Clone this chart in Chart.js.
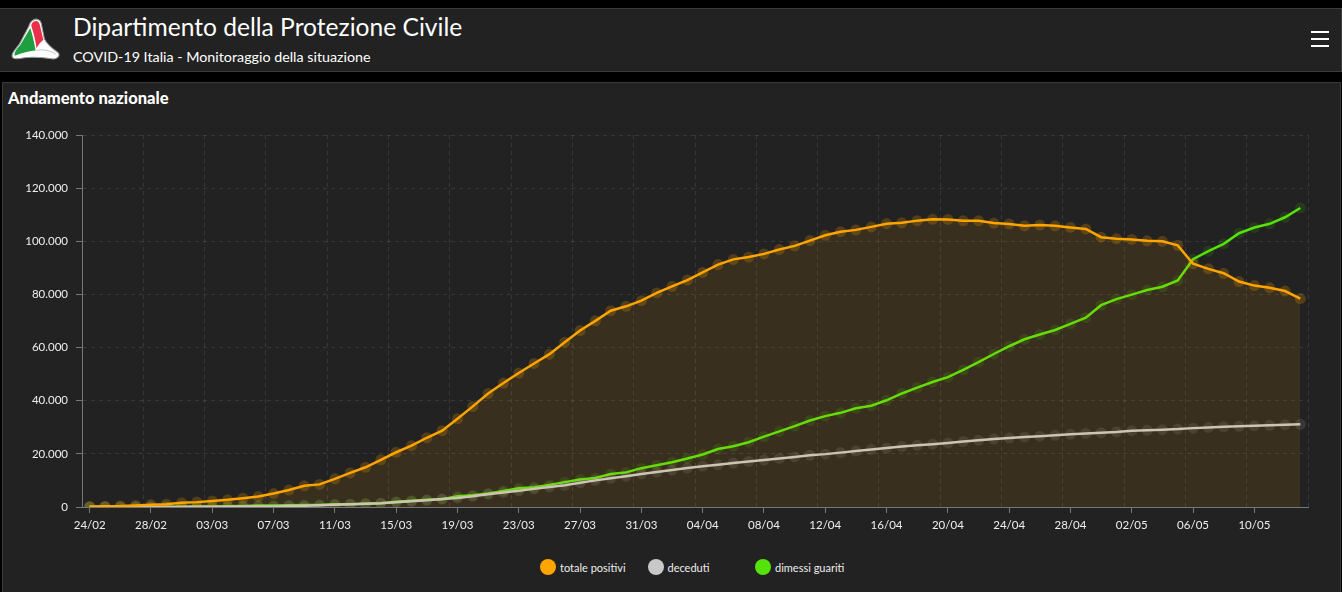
<!DOCTYPE html>
<html>
<head>
<meta charset="utf-8">
<title>Andamento nazionale</title>
<script src="https://cdn.jsdelivr.net/npm/chart.js@4.4.0/dist/chart.umd.min.js"></script>
<style>
  body { margin: 0; background: #000; width: 1342px; height: 592px; overflow: hidden; font-family: Lato, "Open Sans", sans-serif; color: #fff; }
  #header { position: absolute; left: -1px; top: 8px; width: 1341px; height: 62px; background: #222; border: 1px solid #3c3c3c; }
  #logo { position: absolute; left: 10px; top: 9px; }
  #title { position: absolute; left: 73px; top: 3px; font-size: 24.6px; white-space: nowrap; }
  #subtitle { position: absolute; left: 73px; top: 39px; font-size: 14.3px; white-space: nowrap; }
  #menu { position: absolute; right: 12px; top: 22px; width: 18px; }
  #menu span { display: block; height: 2px; background: #fff; margin-bottom: 5px; }
  #panel { position: absolute; left: 2px; top: 82px; width: 1337px; height: 520px; background: #222; border: 1px solid #3a3a3a; }
  #panelTitle { position: absolute; left: 5px; top: 5px; font-size: 16.5px; font-weight: 900; }
  #chartBox { position: absolute; left: 10px; top: 120px; width: 1320px; height: 420px; }
  #legend { position: absolute; left: 540px; top: 559px; display: flex; font-size: 11px; color: #eee; }
  #legend .item { width: 107.5px; display: flex; align-items: center; }
  #legend .dot { width: 16px; height: 16px; border-radius: 50%; margin-right: 4px; }
</style>
</head>
<body>

<div id="header">
  <svg id="logo" width="50" height="44" viewBox="0 0 48 42">
    <path d="M22,2 C25,0 29,1 30,5 L33,20 C36,26 42,30 46,33 C49,36 45,40 40,39 C32,38 22,37 14,38 C8,39 2,40 2,36 C2,33 6,29 9,25 L18,8 C19,5 20,3 22,2 Z" fill="#fff" stroke="#999" stroke-width="1"/>
    <path d="M22.5,3.5 C25,2 27.5,2.5 28.5,6 L32,21 C29,23 27,26 25.5,29 C24.5,21 22.5,14 20.5,7.5 C20.5,5.5 21.5,4.5 22.5,3.5 Z" fill="#e8304a"/>
    <path d="M19.5,9.5 C21.5,16 23.5,24 24.5,31 C18,31.5 10,34 4.5,36 C3.5,33 7,29 10,25.5 Z" fill="#1e9e3e"/>
    <path d="M25.5,31 C31,29.5 38,31 44,34.5" fill="none" stroke="#bbb" stroke-width="0.8"/>
  </svg>
  <div id="title">Dipartimento della Protezione Civile</div>
  <div id="subtitle">COVID-19 Italia - Monitoraggio della situazione</div>
  <div id="menu"><span></span><span></span><span></span></div>
</div>

<div id="panel">
  <div id="panelTitle">Andamento nazionale</div>
</div>

<div id="chartBox"><canvas id="myChart"></canvas></div>
<div id="legend"></div>

<script>
const dates = [
  "24/02", "25/02", "26/02", "27/02", "28/02", "29/02",
  "01/03", "02/03", "03/03", "04/03", "05/03", "06/03", "07/03", "08/03", "09/03", "10/03",
  "11/03", "12/03", "13/03", "14/03", "15/03", "16/03", "17/03", "18/03", "19/03", "20/03",
  "21/03", "22/03", "23/03", "24/03", "25/03", "26/03", "27/03", "28/03", "29/03", "30/03", "31/03",
  "01/04", "02/04", "03/04", "04/04", "05/04", "06/04", "07/04", "08/04", "09/04", "10/04",
  "11/04", "12/04", "13/04", "14/04", "15/04", "16/04", "17/04", "18/04", "19/04", "20/04",
  "21/04", "22/04", "23/04", "24/04", "25/04", "26/04", "27/04", "28/04", "29/04", "30/04",
  "01/05", "02/05", "03/05", "04/05", "05/05", "06/05", "07/05", "08/05", "09/05", "10/05",
  "11/05", "12/05", "13/05"
];

const totalePositivi = [
  221, 311, 385, 588, 821, 1049,
  1577, 1835, 2263, 2706, 3296, 3916, 5061, 6387, 7985, 8514,
  10590, 12839, 14955, 17750, 20603, 23073, 26062, 28710, 33190, 37860,
  42681, 46638, 50418, 54030, 57521, 62013, 66414, 70065, 73880, 75528, 77635,
  80572, 83049, 85388, 88274, 91246, 93187, 94067, 95262, 96877, 98273,
  100269, 102253, 103616, 104291, 105418, 106607, 106962, 107771, 108257, 108237,
  107709, 107699, 106848, 106527, 105847, 106103, 105813, 105205, 104657, 101551,
  100943, 100704, 100179, 99980, 98467, 91528, 89624, 87961, 84842, 83324,
  82488, 81266, 78457
];

const deceduti = [
  7, 10, 12, 17, 21, 29,
  34, 52, 79, 107, 148, 197, 233, 366, 463, 631,
  827, 1016, 1266, 1441, 1809, 2158, 2503, 2978, 3405, 4032,
  4825, 5476, 6077, 6820, 7503, 8165, 9134, 10023, 10779, 11591, 12428,
  13155, 13915, 14681, 15362, 15887, 16523, 17127, 17669, 18279, 18849,
  19468, 19899, 20465, 21067, 21645, 22170, 22745, 23227, 23660, 24114,
  24648, 25085, 25549, 25969, 26384, 26644, 26977, 27359, 27682, 27967,
  28236, 28710, 28884, 29079, 29315, 29684, 29958, 30201, 30395, 30560,
  30739, 30911, 31106
];

const dimessiGuariti = [
  1, 1, 3, 45, 46, 50,
  83, 149, 160, 276, 414, 523, 589, 622, 724, 724,
  1045, 1045, 1258, 1439, 1966, 2335, 2749, 2941, 4025, 4440,
  5129, 6072, 7024, 7432, 8326, 9362, 10361, 10950, 12384, 13030, 14620,
  15729, 16847, 18278, 19758, 21815, 22837, 24392, 26491, 28470, 30455,
  32534, 34211, 35435, 37130, 38092, 40164, 42727, 44927, 47055, 48877,
  51600, 54543, 57576, 60498, 63120, 64928, 66624, 68941, 71252, 75945,
  78249, 79914, 81654, 82879, 85231, 93245, 96276, 99023, 103031, 105186,
  106587, 109039, 112541
];

const yTicks = [0, 20000, 40000, 60000, 80000, 100000, 120000, 140000];

const font = { family: "Lato, 'Open Sans', sans-serif", size: 11.5 };

// every fourth day gets a label; dashed grid lines sit half a day before
const labelIdx = dates.map((d, i) => i).filter(i => i % 4 === 0);
const gridIdx = labelIdx.map(i => i - 0.5).concat(dates.length - 0.5);

function series(values) {
  return values.map((v, i) => ({ x: i, y: v }));
}

function formatNum(v) {
  return String(v).replace(/\B(?=(\d{3})+(?!\d))/g, ".");
}

const ctx = document.getElementById("myChart");

const chart = new Chart(ctx, {
  type: "line",
  data: {
    datasets: [
      {
        label: "totale positivi",
        data: series(totalePositivi),
        borderColor: "#ffa500",
        backgroundColor: "rgba(255,165,0,0.1)",
        fill: "origin",
        borderWidth: 2.5,
        pointRadius: 5.5,
        pointBorderWidth: 0,
        pointBackgroundColor: "rgba(255,165,0,0.22)"
      },
      {
        label: "deceduti",
        data: series(deceduti),
        borderColor: "#c8c8c8",
        backgroundColor: "#c8c8c8",
        fill: false,
        borderWidth: 2.5,
        pointRadius: 5.5,
        pointBorderWidth: 0,
        pointBackgroundColor: "rgba(200,200,200,0.13)"
      },
      {
        label: "dimessi guariti",
        data: series(dimessiGuariti),
        borderColor: "#55e30b",
        backgroundColor: "#55e30b",
        fill: false,
        borderWidth: 2.5,
        pointRadius: 5.5,
        pointBorderWidth: 0,
        pointBackgroundColor: "rgba(85,227,11,0.13)"
      }
    ]
  },
  options: {
    responsive: true,
    maintainAspectRatio: false,
    animation: false,
    layout: { padding: { top: 15, right: 22, left: 0, bottom: 0 } },
    plugins: {
      legend: { display: false },
      tooltip: { enabled: false }
    },
    scales: {
      x: {
        type: "linear",
        position: "bottom",
        min: -0.5,
        max: dates.length - 0.5,
        afterBuildTicks: s => { s.ticks = labelIdx.map(v => ({ value: v })); },
        afterFit: s => { s.height = 33; },
        grid: { drawOnChartArea: false, tickLength: 6, tickColor: "#777" },
        border: { color: "#777" },
        ticks: {
          color: "#eee",
          font: font,
          padding: 5,
          maxRotation: 0,
          autoSkip: false,
          callback: v => dates[v]
        }
      },
      xGrid: {
        type: "linear",
        position: "top",
        min: -0.5,
        max: dates.length - 0.5,
        afterBuildTicks: s => { s.ticks = gridIdx.map(v => ({ value: v })); },
        afterFit: s => { s.height = 0; },
        grid: { color: "rgba(255,255,255,0.1)", drawTicks: false },
        border: { display: false, dash: [4, 4] },
        ticks: { display: false }
      },
      y: {
        min: 0,
        max: 140000,
        afterBuildTicks: s => { s.ticks = yTicks.map(v => ({ value: v })); },
        afterFit: s => { s.width = 72; },
        grid: { color: "rgba(255,255,255,0.1)", tickLength: 6, tickColor: "#777" },
        border: { color: "#777", dash: [4, 4] },
        ticks: {
          color: "#eee",
          font: font,
          padding: 8,
          callback: v => formatNum(v)
        }
      }
    }
  }
});

// html legend with fixed-width items, like the dashboard
const legend = document.getElementById("legend");
chart.data.datasets.forEach(ds => {
  let item = document.createElement("div");
  item.className = "item";
  item.innerHTML = `<span class="dot" style="background:${ds.borderColor}"></span><span>${ds.label}</span>`;
  legend.appendChild(item);
});
</script>
</body>
</html>
